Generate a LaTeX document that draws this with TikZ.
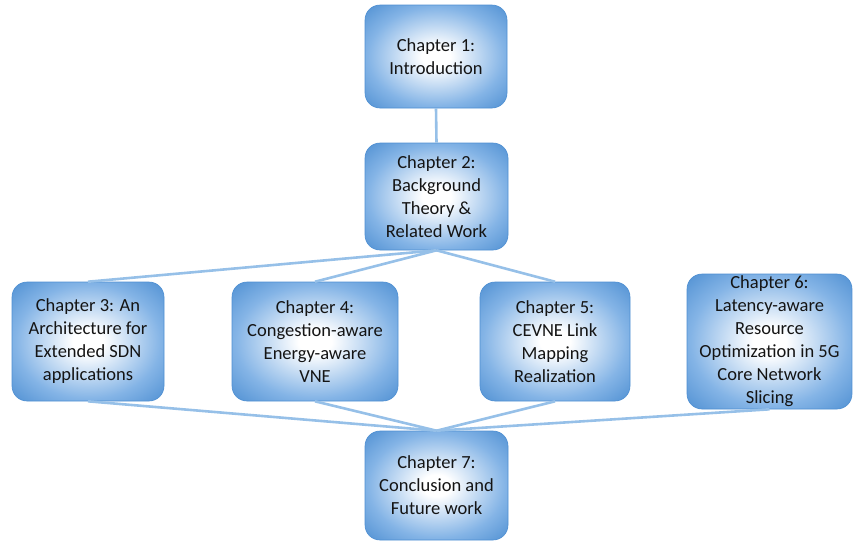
\documentclass[tikz,border=0pt]{standalone}
\usepackage{fontspec}
\setmainfont{Carlito}
\begin{document}
\definecolor{boxedge}{RGB}{78,143,210}
\definecolor{boxmid}{RGB}{132,180,230}
\definecolor{linkblue}{RGB}{150,192,232}
\definecolor{txt}{RGB}{20,20,20}
\pgfdeclareradialshading{chapshade}{\pgfpoint{0bp}{0bp}}{%
  color(0bp)=(white); color(5bp)=(white); color(24bp)=(boxmid);
  color(36bp)=(boxedge); color(50bp)=(boxedge)}
\begin{tikzpicture}[x=1pt,y=-1pt,
  chap/.style={rounded corners=15pt, shading=chapshade, draw=boxedge, line width=0.6pt,
    align=center, text=txt, inner sep=0pt,
    font=\fontsize{18.5}{23}\selectfont},
  link/.style={draw=linkblue, line width=2.6pt}]
\useasboundingbox (0,0) rectangle (853,542);
\node[chap, minimum width=142pt, minimum height=103pt] (c1) at (436,56.5) {Chapter 1:\\Introduction};
\node[chap, minimum width=143pt, minimum height=107pt] (c2) at (436.5,196.5) {Chapter 2:\\Background\\Theory \&\\Related Work};
\node[chap, minimum width=152pt, minimum height=119pt] (c3) at (88,341.5) {Chapter 3: An\\Architecture for\\Extended SDN\\applications};
\node[chap, minimum width=166pt, minimum height=119pt] (c4) at (315,341.5) {Chapter 4:\\Congestion-aware\\Energy-aware\\VNE};
\node[chap, minimum width=150pt, minimum height=119pt] (c5) at (555,341.5) {Chapter 5:\\CEVNE Link\\Mapping\\Realization};
\node[chap, minimum width=165pt, minimum height=135pt] (c6) at (769.5,341.5) {Chapter 6:\\Latency-aware\\Resource\\Optimization in 5G\\Core Network\\Slicing};
\node[chap, minimum width=143pt, minimum height=109pt] (c7) at (436.5,485.5) {Chapter 7:\\Conclusion and\\Future work};
\draw[link] (c1.south) -- (c2.north);
\foreach \n in {c3,c4,c5} \draw[link] (c2.south) -- (\n.north);
\foreach \n in {c3,c4,c5,c6} \draw[link] (\n.south) -- (c7.north);
\end{tikzpicture}
\end{document}
